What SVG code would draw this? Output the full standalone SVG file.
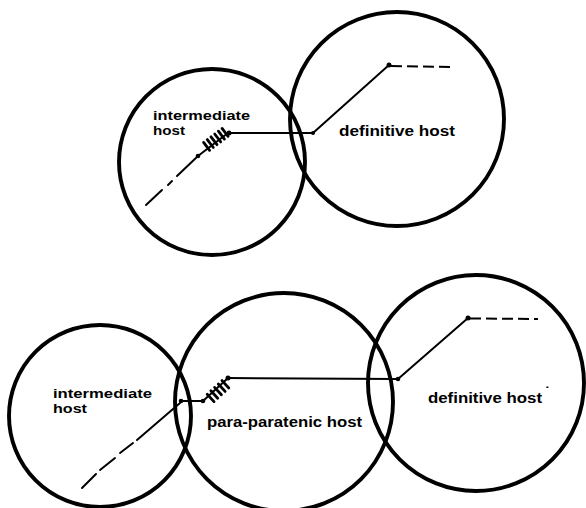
<svg xmlns="http://www.w3.org/2000/svg" width="586" height="508" viewBox="0 0 586 508">
  <style>
    .host { fill: none; stroke: #000; stroke-width: 3.9; }
    .lbl { font-family: "Liberation Sans", Arial, sans-serif; font-weight: bold; font-size: 14px; fill: #000; }
    .lbl2 { font-size: 13px; }
    .path { fill: none; stroke: #000; stroke-width: 2; stroke-linecap: round; stroke-linejoin: round; }
    .dash { fill: none; stroke: #000; stroke-width: 2; stroke-dasharray: 11 5; }
    .coil { fill: none; stroke: #000; stroke-width: 2.8; stroke-linecap: round; }
    .pt { fill: #000; }
  </style>
  <rect width="586" height="508" fill="#fff"/>

  <!-- upper cycle: two hosts -->
  <g id="top-intermediate-host">
    <circle class="host" cx="212" cy="162" r="93"/>
    <text class="lbl lbl2" x="153" y="120" textLength="97" lengthAdjust="spacingAndGlyphs">intermediate</text>
    <text class="lbl lbl2" x="153" y="135" textLength="32" lengthAdjust="spacingAndGlyphs">host</text>
  </g>
  <g id="top-definitive-host">
    <circle class="host" cx="397" cy="119" r="107"/>
    <text class="lbl" x="339" y="136" textLength="116" lengthAdjust="spacingAndGlyphs">definitive host</text>
  </g>

  <!-- lower cycle: three hosts -->
  <g id="bottom-intermediate-host">
    <circle class="host" cx="100" cy="416" r="91"/>
    <text class="lbl lbl2" x="53" y="398" textLength="99" lengthAdjust="spacingAndGlyphs">intermediate</text>
    <text class="lbl lbl2" x="53" y="413" textLength="34" lengthAdjust="spacingAndGlyphs">host</text>
  </g>
  <g id="para-paratenic-host">
    <circle class="host" cx="284" cy="402" r="109"/>
    <text class="lbl" x="207" y="427" textLength="155" lengthAdjust="spacingAndGlyphs">para-paratenic host</text>
  </g>
  <g id="bottom-definitive-host">
    <circle class="host" cx="476" cy="383" r="108"/>
    <text class="lbl" x="428" y="403" textLength="114" lengthAdjust="spacingAndGlyphs">definitive host</text>
    <text class="lbl" x="545" y="397" font-size="11">˙</text>
  </g>

  <g id="connectors">
    <!-- upper route -->
    <line class="path" x1="146" y1="205" x2="162" y2="190"/>
    <line class="path" x1="168" y1="185" x2="172" y2="181"/>
    <line class="path" x1="177" y1="176" x2="198" y2="156"/>
    <line class="path" x1="198" y1="156" x2="228" y2="133"/>
    <path class="coil" d="M206.6 146.3 l-6 -7.9 M210.3 143.5 l-6 -7.9 M214 140.7 l-6 -7.9 M217.7 137.9 l-6 -7.9 M221.4 135.1 l-6 -7.9 M225.1 132.3 l-6 -7.9" transform="translate(3 4)"/>
    <circle class="pt" cx="198" cy="156" r="2.3"/>
    <circle class="pt" cx="229" cy="133" r="2.5"/>
    <polyline class="path" points="229,133 313,133 389,65"/>
    <circle class="pt" cx="313" cy="133" r="2"/>
    <circle class="pt" cx="389" cy="65" r="2.5"/>
    <path class="dash" d="M391 66 L453 67"/>

    <!-- lower route -->
    <line class="path" x1="82" y1="488" x2="96" y2="474"/>
    <line class="path" x1="100" y1="470" x2="115" y2="458"/>
    <line class="path" x1="120" y1="453" x2="133" y2="443"/>
    <line class="path" x1="137" y1="440" x2="180" y2="403"/>
    <polyline class="path" points="180,401 203,401 228,378"/>
    <path class="coil" d="M211 400.6 l-6.8 -7.4 M214.7 397.2 l-6.8 -7.4 M218.4 393.8 l-6.8 -7.4 M222.1 390.4 l-6.8 -7.4 M225.8 387 l-6.8 -7.4" transform="translate(3 1)"/>
    <circle class="pt" cx="181" cy="401" r="2.3"/>
    <circle class="pt" cx="203" cy="401" r="2.3"/>
    <circle class="pt" cx="228" cy="378" r="2.5"/>
    <polyline class="path" points="228,378 398,379 468,318"/>
    <circle class="pt" cx="398" cy="379" r="2.3"/>
    <circle class="pt" cx="468" cy="318" r="2.5"/>
    <path class="dash" d="M470 318.5 L538 319"/>
  </g>
</svg>
